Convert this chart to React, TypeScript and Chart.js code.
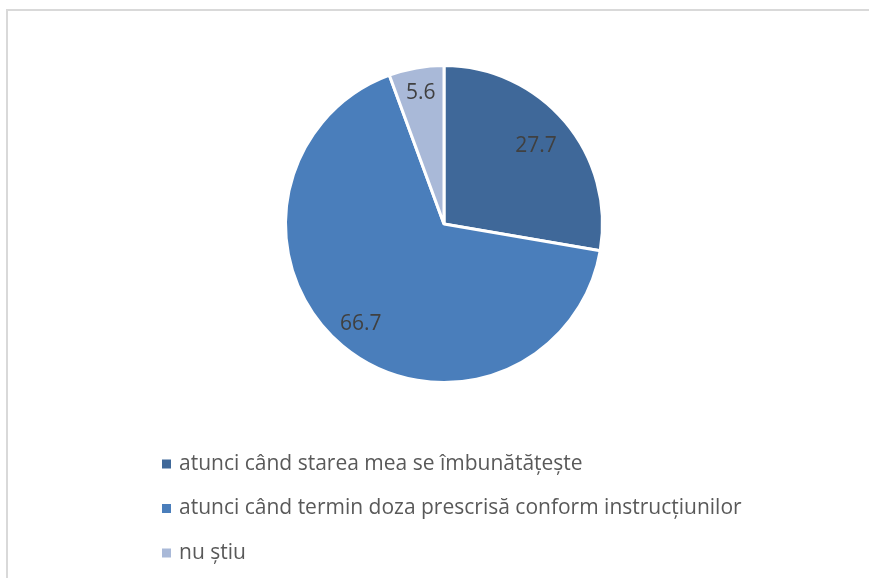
import React, { useEffect, useRef } from "react";
import { Chart, registerables } from "chart.js";

Chart.register(...registerables);

const categories = [
  "atunci când starea mea se îmbunătățește",
  "atunci când termin doza prescrisă conform instrucțiunilor",
  "nu știu",
];
const values = [27.7, 66.7, 5.6];
const valueLabels = ["27.7", "66.7", "5.6"];
const colors = ["#3F6899", "#4A7EBB", "#A9B9D8"];

const FONT = "'Open Sans', 'Liberation Sans', sans-serif";

const framePlugin = {
  id: "frame",
  beforeDraw(chart: any) {
    const ctx = chart.ctx;
    ctx.save();
    ctx.fillStyle = "#ffffff";
    ctx.fillRect(0, 0, chart.width, chart.height);
    ctx.fillStyle = "#D9D9D9";
    ctx.fillRect(6, 9, 2, chart.height - 9);
    ctx.fillRect(6, 9, chart.width - 6, 2);
    ctx.restore();
  },
};

const labelRatios = [0.76, 0.82, 0.84];

const dataLabelPlugin = {
  id: "pieLabels",
  afterDatasetsDraw(chart: any) {
    const ctx = chart.ctx;
    const meta = chart.getDatasetMeta(0);
    ctx.save();
    ctx.font = `21px ${FONT}`;
    ctx.fillStyle = "#404040";
    ctx.textAlign = "center";
    ctx.textBaseline = "middle";
    meta.data.forEach((arc: any, i: number) => {
      const mid = (arc.startAngle + arc.endAngle) / 2;
      const r = arc.outerRadius * labelRatios[i];
      const x = arc.x + Math.cos(mid) * r;
      const y = arc.y + Math.sin(mid) * r;
      ctx.fillText(valueLabels[i], x, y);
    });
    ctx.restore();
  },
};

const legendPlugin = {
  id: "customLegend",
  afterDraw(chart: any) {
    const ctx = chart.ctx;
    const labels = chart.data.labels as string[];
    const bg = chart.data.datasets[0].backgroundColor as string[];
    ctx.save();
    ctx.font = `21px ${FONT}`;
    ctx.textBaseline = "middle";
    ctx.textAlign = "left";
    labels.forEach((lab, i) => {
      const cy = 464 + i * 44.5;
      ctx.fillStyle = bg[i];
      ctx.fillRect(162, cy - 4.5, 9, 9);
      ctx.fillStyle = "#595959";
      ctx.fillText(lab, 179, cy);
    });
    ctx.restore();
  },
};

export default function App() {
  const ref = useRef<HTMLCanvasElement | null>(null);
  useEffect(() => {
    document.body.style.margin = "0";
    const chart = new Chart(ref.current!, {
      type: "pie",
      data: {
        labels: categories,
        datasets: [
          {
            data: values,
            backgroundColor: colors,
            borderColor: "#ffffff",
            borderWidth: 3,
          },
        ],
      },
      options: {
        animation: false,
        responsive: false,
        layout: { padding: { top: 64, bottom: 194, left: 284, right: 265 } },
        plugins: {
          legend: { display: false },
          tooltip: { enabled: false },
        },
      },
      plugins: [framePlugin, dataLabelPlugin, legendPlugin],
    });
    return () => chart.destroy();
  }, []);
  return (
    <div style={{ position: "fixed", left: 0, top: 0, width: 869, height: 578 }}>
      <canvas ref={ref} width={869} height={578} style={{ width: 869, height: 578, display: "block" }} />
    </div>
  );
}
